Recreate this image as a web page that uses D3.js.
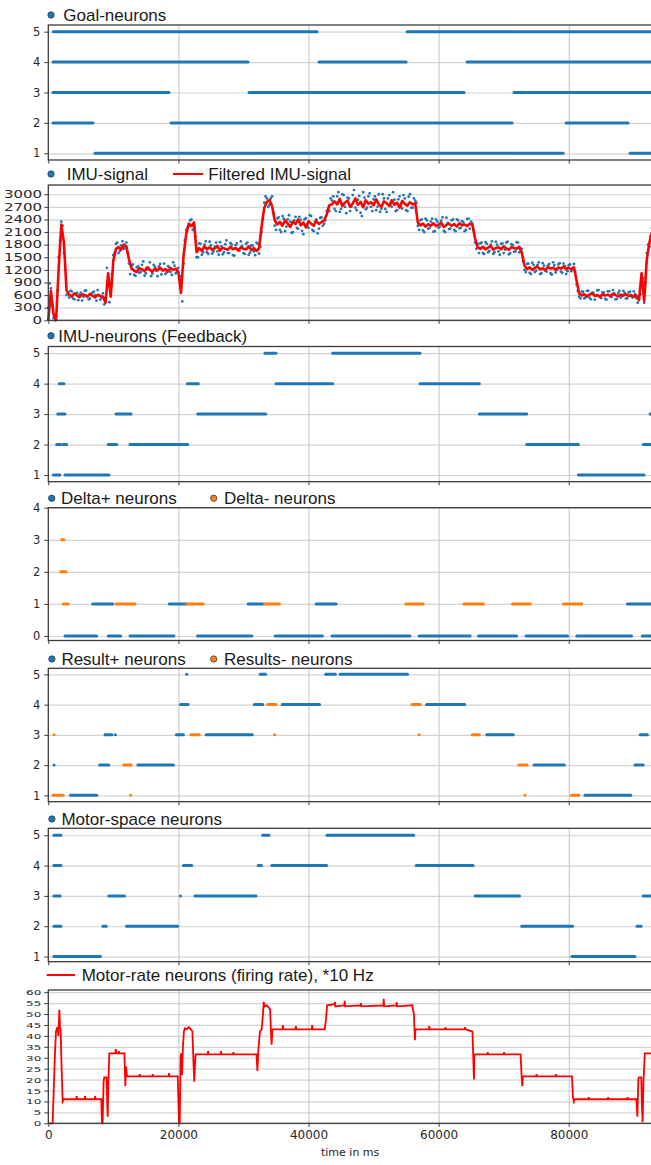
<!DOCTYPE html>
<html>
<head>
<meta charset="utf-8">
<script src="https://cdn.jsdelivr.net/npm/d3@7"></script>
<style>
  body { margin: 0; background: #fff; }
  .legend text { font-family: "Liberation Sans", Arial, sans-serif; font-size: 17px; fill: #1a1a1a; }
  .tick text { font-family: "DejaVu Sans", sans-serif; fill: #262626; }
</style>
</head>
<body>
<svg id="chart" width="651" height="1165"></svg>
<script>
// ---- data ----
const timeMax = 92800;
const timeTicks = [0, 20000, 40000, 60000, 80000];
const neuronTicks = [1, 2, 3, 4, 5];
const deltaTicks = [0, 1, 2, 3, 4];
const imuTicks = [0, 300, 600, 900, 1200, 1500, 1800, 2100, 2400, 2700, 3000];
const rateTicks = [0, 5, 10, 15, 20, 25, 30, 35, 40, 45, 50, 55, 60];

// [neuron, start ms, end ms]
const goalNeurons = [
  [5, 770, 41310], [5, 55140, 92800],
  [4, 720, 30700], [4, 41620, 55000], [4, 64370, 92800],
  [3, 720, 18550], [3, 30860, 63910], [3, 71590, 92800],
  [2, 720, 6870], [2, 18860, 71290], [2, 79590, 89120],
  [1, 7180, 79130], [1, 89430, 92800]
];

const feedbackNeurons = [
  [5, 33310, 35000], [5, 43720, 57140],
  [4, 1690, 2410], [4, 21370, 23060], [4, 35000, 43720], [4, 57140, 66260],
  [3, 1450, 2570], [3, 10410, 12710], [3, 22970, 33420], [3, 66260, 73540], [3, 92500, 92800],
  [2, 1290, 1910], [2, 2310, 2830], [2, 9220, 10520], [2, 12560, 21430], [2, 73540, 81480], [2, 91470, 92800],
  [1, 770, 1800], [1, 2570, 9330], [1, 81480, 91580]
];

const deltaPlus = [
  [1, 6830, 9900], [1, 18600, 21280], [1, 30720, 33210], [1, 41180, 44240], [1, 89020, 92800],
  [0, 2570, 7440], [0, 9220, 11130], [0, 12560, 19320], [0, 22940, 31300], [0, 34870, 42140],
  [0, 43610, 55600], [0, 57000, 64840], [0, 66120, 71990], [0, 73450, 79830], [0, 81240, 89650],
  [0, 91310, 92800]
];
const deltaMinus = [
  [3, 2060, 2410],
  [2, 1910, 2720],
  [1, 2310, 3070], [1, 10410, 13330], [1, 21280, 23830], [1, 33210, 35510], [1, 54960, 57630],
  [1, 63890, 66890], [1, 71350, 74100], [1, 79200, 82000]
];

const resultPlus = [
  [5, 21280, 21280], [5, 32570, 33400], [5, 42640, 44120], [5, 44870, 55220],
  [4, 20320, 21480], [4, 31680, 32960], [4, 35960, 41690], [4, 58160, 64010],
  [3, 8720, 9790], [3, 10320, 10320], [3, 19680, 20770], [3, 24270, 31360], [3, 67400, 71480], [3, 90990, 92080],
  [2, 880, 880], [2, 7890, 9290], [2, 13760, 19230], [2, 74670, 79330], [2, 90180, 91450],
  [1, 3410, 7440], [1, 82510, 89530]
];
const resultMinus = [
  [4, 33710, 34990], [4, 55910, 57190],
  [3, 880, 880], [3, 21920, 23200], [3, 34800, 34800], [3, 57000, 57000], [3, 65170, 66260],
  [2, 11590, 12730], [2, 72310, 73590],
  [1, 740, 1180], [1, 1510, 2280], [1, 12670, 12670], [1, 73270, 73270], [1, 80420, 81550]
];

const motorSpace = [
  [5, 860, 1950], [5, 32960, 33910], [5, 42840, 56170],
  [4, 860, 1950], [4, 20770, 22040], [4, 32250, 32760], [4, 34360, 42780], [4, 56560, 65290],
  [3, 860, 1830], [3, 9290, 11710], [3, 20320, 20320], [3, 22550, 31930], [3, 65610, 72430], [3, 91450, 92800],
  [2, 860, 1950], [2, 8390, 8900], [2, 12040, 19880], [2, 72760, 80600], [2, 90500, 91130],
  [1, 860, 8010], [1, 80480, 90180]
];

// IMU samples, one value every 400 ms
// imuFiltered and imuRawB sit on the 400 ms grid, imuRaw is offset by 200 ms
const imuStep = 400;
const imuFiltered = [
  0, 700, 150, 0, 1250, 2280, 1850, 720,
  610, 570, 640, 590, 550, 620, 600, 565, 630, 585, 545, 605, 580, 560,
  420, 1120, 560, 1420,
  1700, 1740, 1680, 1800, 1760, 1450,
  1230, 1180, 1150, 1240, 1210, 1170, 1260, 1200, 1160, 1230, 1190, 1250, 1180, 1220, 1160, 1240, 1200, 1230, 1150,
  650, 1550, 2050, 2300, 2240, 2330, 1620,
  1720, 1650, 1760, 1690, 1740, 1680, 1710, 1770, 1660, 1730, 1700, 1680, 1750, 1690, 1720, 1660, 1740, 1700,
  1690, 1760, 1670, 1720, 1650, 1710,
  2250, 2680, 2820, 2860, 2720, 2380,
  2280, 2340, 2250, 2380, 2300, 2220, 2350, 2290, 2400, 2260, 2330, 2210, 2360, 2300, 2250, 2370, 2290, 2340, 2380,
  2520, 2740, 2760,
  2830, 2760, 2890, 2720, 2800, 2850, 2700, 2780, 2900, 2750, 2820, 2690, 2860, 2770, 2810, 2740, 2880, 2760,
  2700, 2830, 2790, 2720, 2860, 2750, 2800, 2680, 2840, 2770, 2730, 2810, 2760, 2790,
  2330,
  2260, 2300, 2230, 2290, 2250, 2310, 2240, 2280, 2320, 2220, 2270, 2300, 2250, 2290, 2230, 2310, 2260, 2280,
  2240, 2300, 2270,
  1950, 1740,
  1700, 1750, 1690, 1730, 1770, 1680, 1720, 1740, 1690, 1760, 1710, 1680, 1740, 1720, 1700, 1750,
  1600, 1300,
  1220, 1260, 1200, 1250, 1280, 1210, 1240, 1190, 1270, 1230, 1250, 1200, 1260, 1230, 1280, 1220, 1250, 1210, 1260,
  950, 640,
  590, 620, 570, 610, 640, 580, 600, 560, 620, 590, 610, 580, 630, 600, 570, 610, 590, 620, 580, 600, 560, 590,
  480, 1120, 460, 1450, 1850, 2100
];
const imuRaw = [
  880, 350, 0, 700, 1900, 2250, 1200, 650,
  700, 520, 640, 480, 660, 560, 710, 500, 620, 680, 470, 600, 540,
  380, 1250, 430, 1100,
  1600, 1850, 1650, 1880, 1720, 1600,
  1100, 1330, 1060, 1280, 1150, 1400, 1120, 1250, 1050, 1320, 1180, 1280, 1090, 1350, 1140, 1260, 1080, 1300, 1170,
  1050, 450, 1900, 2200, 2380, 2150, 2000,
  1500, 1820, 1620, 1880, 1580, 1790, 1640, 1850, 1560, 1760, 1620, 1900, 1600, 1800, 1540, 1830, 1660, 1770,
  1580, 1850, 1610, 1780, 1550, 1820,
  1750, 2400, 2950, 2700, 2900, 2550,
  2150, 2450, 2100, 2420, 2230, 2500, 2080, 2380, 2200, 2460, 2130, 2400, 2250, 2500, 2150, 2350, 2070, 2440, 2250,
  2380, 2650, 2900,
  2950, 2600, 3050, 2650, 2980, 2550, 2900, 2700, 3100, 2620, 2960, 2480, 2920, 2680, 3020, 2600, 2950, 2700,
  2580, 3000, 2650, 2900, 2750, 3050, 2600, 2880, 2700, 2980, 2620, 2940, 2680, 2900,
  2800,
  2150, 2400, 2100, 2380, 2200, 2420, 2120, 2350, 2230, 2450, 2100, 2320, 2180, 2400, 2120, 2380, 2200, 2330,
  2150, 2420, 2350,
  2150, 1700,
  1600, 1850, 1580, 1820, 1650, 1880, 1620, 1800, 1560, 1830, 1680, 1870, 1600, 1790, 1640, 1850,
  1700, 1400,
  1150, 1350, 1100, 1320, 1180, 1380, 1120, 1300, 1160, 1340, 1090, 1310, 1200, 1360, 1130, 1290, 1170, 1330, 1250,
  1150, 700,
  520, 680, 550, 700, 500, 650, 580, 720, 530, 660, 490, 690, 560, 640, 510, 700, 570, 650, 520, 680, 540, 620,
  420, 620, 1000, 900, 1800, 2000
];
const imuRawB = [
  300, 760, 60, 100, 1500, 2350, 1600, 600,
  540, 690, 500, 650, 610, 470, 700, 580, 520, 660, 600, 720, 490, 640,
  470, 950, 700, 1550,
  1820, 1600, 1780, 1700, 1850, 1350,
  1300, 1080, 1260, 1130, 1320, 1060, 1210, 1380, 1110, 1270, 1050, 1340, 1200, 1100, 1290, 1150, 1380, 1120, 1250,
  800, 1350, 2150, 2250, 2400, 2200, 1500,
  1830, 1560, 1800, 1620, 1870, 1590, 1750, 1640, 1860, 1570, 1810, 1600, 1840, 1550, 1790, 1680, 1880, 1600,
  1820, 1560, 1780, 1640, 1850, 1590,
  2100, 2800, 2900, 2750, 2950, 2250,
  2420, 2150, 2480, 2120, 2400, 2350, 2100, 2460, 2180, 2390, 2050, 2430, 2200, 2480, 2120, 2400, 2180, 2450, 2300,
  2600, 2600, 2850,
  2650, 2950, 2580, 3000, 2700, 2920, 2600, 2980, 2680, 2870, 2560, 3050, 2640, 2950, 2700, 2880, 2620, 3000,
  2650, 2900, 2580, 2980, 2700, 2870, 2620, 2950, 2660, 2900, 2600, 3000, 2680, 2850,
  2250,
  2380, 2140, 2420, 2180, 2350, 2110, 2400, 2200, 2370, 2130, 2440, 2170, 2380, 2150, 2400, 2190, 2360, 2120,
  2410, 2180, 2300,
  1850, 1820,
  1830, 1600, 1860, 1620, 1800, 1580, 1870, 1640, 1820, 1600, 1850, 1570, 1810, 1630, 1860, 1620,
  1700, 1200,
  1340, 1130, 1370, 1150, 1320, 1100, 1360, 1180, 1300, 1120, 1380, 1140, 1330, 1160, 1350, 1100, 1310, 1170, 1340,
  850, 560,
  680, 520, 700, 540, 660, 490, 710, 550, 670, 510, 690, 560, 720, 500, 650, 540, 700, 520, 660, 570, 690, 530,
  520, 1000, 420, 1600, 1750, 2200
];

// [ms, rate]
const motorRate = [
  [0, 0], [670, 0], [1000, 30], [1180, 42], [1390, 44], [1550, 40], [1700, 52], [1800, 44], [1900, 43],
  [2050, 25], [2210, 10], [2400, 11], [4300, 11], [4360, 12.5], [4420, 11], [5580, 11], [5640, 12.5],
  [5700, 11], [7130, 11], [7190, 12.5], [7250, 11], [8150, 11],
  [8250, 0], [8350, 0], [8500, 19], [8600, 21], [8950, 21], [9050, 10], [9130, 3], [9250, 20], [9380, 32],
  [10300, 32], [10380, 34], [10460, 32], [10800, 32], [10860, 33], [10920, 32], [11700, 32],
  [11840, 17], [11950, 26], [12100, 21.5],
  [14000, 21.5], [14060, 22.5], [14120, 21.5], [16000, 21.5], [16060, 22.5], [16120, 21.5],
  [18500, 21.5], [18560, 23], [18620, 21.5], [19900, 21.5], [20000, 10], [20090, 0], [20200, 0],
  [20350, 31], [20450, 32], [20550, 22], [20700, 35], [20850, 42], [21000, 43.5], [21300, 43], [21600, 44],
  [21900, 43], [22150, 42], [22350, 25], [22440, 19], [22550, 27], [22650, 31.5],
  [24500, 31.5], [24560, 33], [24620, 31.5], [26500, 31.5], [26560, 33], [26620, 31.5],
  [28400, 31.5], [28460, 32.5], [28520, 31.5], [32000, 31.5], [32150, 24], [32300, 34], [32540, 42],
  [32800, 43], [33000, 50], [33100, 55.5], [33300, 53.5], [33600, 54], [33900, 53], [34100, 52],
  [34250, 40], [34330, 36], [34450, 43],
  [36000, 43], [36060, 45], [36120, 43], [38000, 43], [38060, 44.5], [38120, 43], [40500, 43],
  [40560, 45], [40620, 43], [42500, 43], [42700, 48], [42850, 54],
  [44000, 54.5], [44060, 55.5], [44120, 53.5], [45500, 54], [45560, 56], [45620, 53.5], [48000, 54],
  [48060, 55], [48120, 53.5], [51500, 54], [51560, 57], [51620, 53.5], [53500, 54], [53560, 55.5],
  [53620, 53.5], [55950, 54], [56200, 50], [56350, 38], [56450, 43],
  [58500, 43], [58560, 44.5], [58620, 43], [61000, 43], [61060, 44], [61120, 43], [64000, 43],
  [64060, 44], [64120, 43], [65200, 42], [65350, 28], [65430, 20], [65500, 31.5],
  [67500, 31.5], [67560, 32.5], [67620, 31.5], [70000, 31.5], [70060, 32.5], [70120, 31.5],
  [72600, 31.5], [72750, 22], [72860, 17], [72950, 21.5],
  [75000, 21.5], [75060, 22.5], [75120, 21.5], [78000, 21.5], [78060, 22.5], [78120, 21.5],
  [80500, 21.5], [80650, 12], [80800, 10], [80900, 11],
  [83000, 11], [83060, 12], [83120, 11], [86000, 11], [86060, 12], [86120, 11], [89000, 11],
  [89060, 12], [89120, 11], [90400, 11], [90550, 3], [90700, 20], [90790, 21], [91150, 21],
  [91250, 8], [91360, 0.5], [91500, 20], [91700, 32], [92200, 32], [92800, 32]
];

// ---- layout ----
const BLUE = '#1f77b4';
const ORANGE = '#ff7f0e';
const RED = '#ff0000';
const left = 48.3;
const right = 652;

const svg = d3.select('#chart');
const x = d3.scaleLinear().domain([0, timeMax]).range([left, right]);

/**
 * Draw one panel frame: grid, y axis, bottom ticks. Returns the y scale
 * and a group to put the marks into.
 */
function panel(top, bottom, domain, ticks, opts = {}) {
  const y = d3.scaleLinear().domain(domain).range([bottom, top]);
  const g = svg.append('g');

  // grid
  g.append('g')
    .attr('transform', `translate(${left},0)`)
    .call(d3.axisLeft(y).tickValues(ticks).tickSize(-(right - left)).tickFormat(''))
    .call(s => s.select('.domain').remove())
    .call(s => s.selectAll('line').attr('stroke', '#d4d4d4').attr('stroke-width', 1.2));
  g.append('g')
    .attr('transform', `translate(0,${bottom})`)
    .call(d3.axisBottom(x).tickValues(timeTicks.slice(1)).tickSize(-(bottom - top)).tickFormat(''))
    .call(s => s.select('.domain').remove())
    .call(s => s.selectAll('line').attr('stroke', '#c4c4c4').attr('stroke-width', 1));

  const marks = g.append('g');

  // frame
  g.append('rect')
    .attr('x', left).attr('y', top)
    .attr('width', right - left).attr('height', bottom - top)
    .attr('fill', 'none').attr('stroke', '#3c3c3c').attr('stroke-width', 1.3);

  // y axis
  const sx = opts.scale ? opts.scale[0] : 1;
  const sy = opts.scale ? opts.scale[1] : 1;
  const yAxis = g.append('g')
    .attr('transform', `translate(${left},0)`)
    .call(d3.axisLeft(y).tickValues(ticks).tickSize(4).tickPadding(opts.pad || 4).tickFormat(d => d))
    .call(s => s.select('.domain').remove());
  yAxis.selectAll('line').attr('stroke', '#3c3c3c');
  yAxis.selectAll('text')
    .style('font-size', `${opts.font || 11.5}px`)
    .attr('transform', `scale(${sx},${sy})`);

  // bottom ticks
  const xAxis = g.append('g')
    .attr('transform', `translate(0,${bottom})`)
    .call(d3.axisBottom(x).tickValues(timeTicks).tickSize(3.5).tickPadding(4)
      .tickFormat(opts.xLabels ? d => d : ''))
    .call(s => s.select('.domain').remove());
  xAxis.selectAll('line').attr('stroke', '#3c3c3c');
  xAxis.selectAll('text').style('font-size', '12px');

  return { y, marks };
}

function spikeRows(p, rows, color) {
  p.marks.append('g').selectAll('line')
    .data(rows)
    .join('line')
    .attr('x1', d => x(d[1]))
    .attr('x2', d => x(d[2]))
    .attr('y1', d => p.y(d[0]))
    .attr('y2', d => p.y(d[0]))
    .attr('stroke', color)
    .attr('stroke-width', 3)
    .attr('stroke-linecap', 'round');
}

// legend helpers
const legend = svg.append('g').attr('class', 'legend');
function dotKey(cx, cy, color, label, tx) {
  legend.append('circle').attr('cx', cx).attr('cy', cy).attr('r', 3.2)
    .attr('fill', color).attr('stroke', '#1d3550').attr('stroke-width', 0.7);
  legend.append('text').attr('x', tx).attr('y', cy).attr('dy', '0.36em').text(label);
}
function lineKey(x1, x2, cy, label, tx) {
  legend.append('line').attr('x1', x1).attr('x2', x2).attr('y1', cy).attr('y2', cy)
    .attr('stroke', RED).attr('stroke-width', 2);
  legend.append('text').attr('x', tx).attr('y', cy).attr('dy', '0.36em').text(label);
}

// ---- panels ----
const goal = panel(25, 160, [0.78, 5.22], neuronTicks);
spikeRows(goal, goalNeurons, BLUE);
dotKey(51, 15, BLUE, 'Goal-neurons', 63.3);

const imu = panel(185, 320.3, [0, 3220], imuTicks, { font: 12, scale: [1.25, 0.83], pad: 1 });
const rawPoints = imuRaw.map((v, i) => [imuStep / 2 + i * imuStep, v])
  .concat(imuRawB.map((v, i) => [i * imuStep, v]));
imu.marks.append('g').selectAll('circle')
  .data(rawPoints)
  .join('circle')
  .attr('cx', d => x(d[0]))
  .attr('cy', d => imu.y(d[1]))
  .attr('r', 1.4)
  .attr('fill', BLUE);
imu.marks.append('path')
  .datum(imuFiltered.map((v, i) => [i * imuStep, v]))
  .attr('fill', 'none')
  .attr('stroke', RED)
  .attr('stroke-width', 2.6)
  .attr('stroke-linejoin', 'round')
  .attr('d', d3.line().x(d => x(d[0])).y(d => imu.y(d[1])));
dotKey(51, 174, BLUE, 'IMU-signal', 66.7);
lineKey(173, 203, 174, 'Filtered IMU-signal', 208.3);

const feedback = panel(346.5, 481.7, [0.78, 5.22], neuronTicks);
spikeRows(feedback, feedbackNeurons, BLUE);
dotKey(51, 335.7, BLUE, 'IMU-neurons (Feedback)', 58.3);

const delta = panel(507.7, 640.5, [-0.14, 4], deltaTicks);
spikeRows(delta, deltaPlus, BLUE);
spikeRows(delta, deltaMinus, ORANGE);
dotKey(51.7, 498.3, BLUE, 'Delta+ neurons', 61);
dotKey(213.7, 498.3, ORANGE, 'Delta- neurons', 224);

const result = panel(668.3, 801.7, [0.79, 5.2], neuronTicks);
spikeRows(result, resultPlus, BLUE);
spikeRows(result, resultMinus, ORANGE);
dotKey(51.9, 659, BLUE, 'Result+ neurons', 61.4);
dotKey(213.7, 659, ORANGE, 'Results- neurons', 224);

const motor = panel(828.3, 961.7, [0.83, 5.23], neuronTicks);
spikeRows(motor, motorSpace, BLUE);
dotKey(51.9, 819, BLUE, 'Motor-space neurons', 61.4);

const rate = panel(990, 1123.3, [0, 61], rateTicks, { font: 12, scale: [1, 0.65], pad: 3, xLabels: true });
rate.marks.append('path')
  .datum(motorRate)
  .attr('fill', 'none')
  .attr('stroke', RED)
  .attr('stroke-width', 1.8)
  .attr('d', d3.line().x(d => x(d[0])).y(d => rate.y(d[1])));
lineKey(46.7, 75, 975, 'Motor-rate neurons (firing rate), *10 Hz', 81.7);

svg.append('text')
  .attr('x', (left + right) / 2)
  .attr('y', 1156)
  .attr('text-anchor', 'middle')
  .style('font-family', '"DejaVu Sans", sans-serif')
  .style('font-size', '11px')
  .attr('fill', '#262626')
  .text('time in ms');
</script>
</body>
</html>
